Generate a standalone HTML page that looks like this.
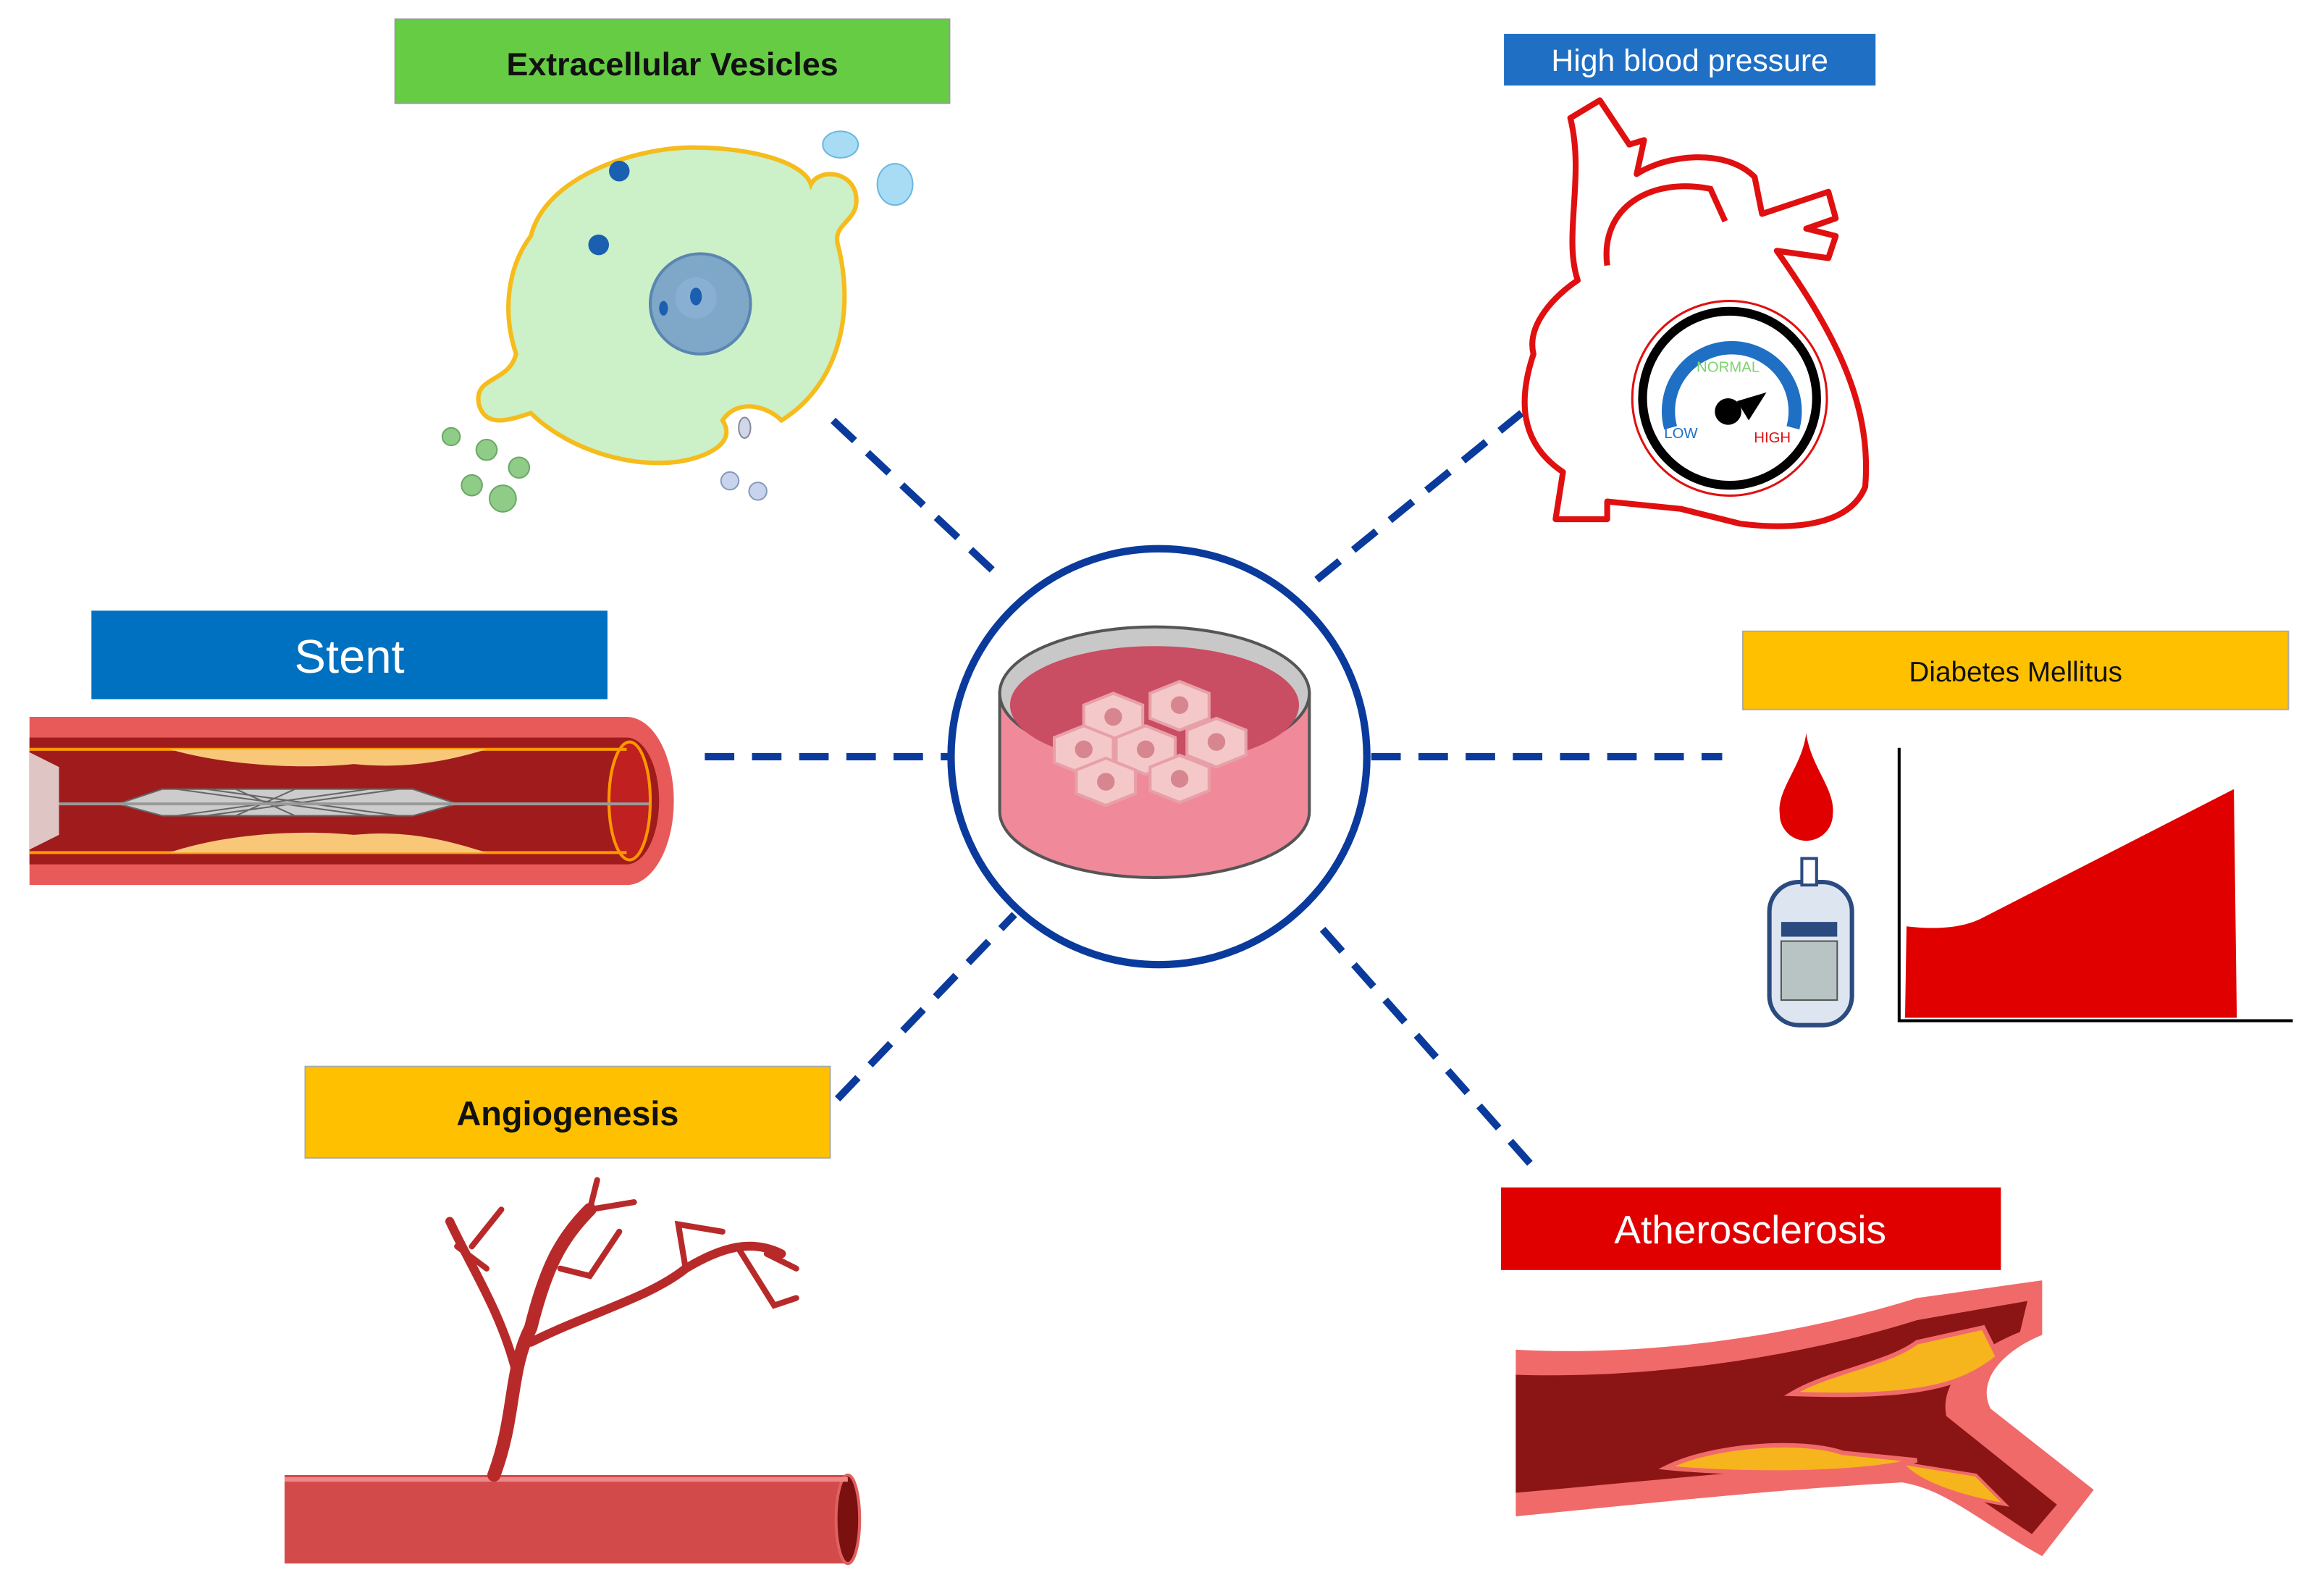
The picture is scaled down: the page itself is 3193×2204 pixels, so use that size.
<!DOCTYPE html>
<html><head><meta charset="utf-8">
<style>
html,body{margin:0;padding:0;background:#fff;}
svg{display:block;}
text{font-family:"Liberation Sans",sans-serif;}
</style></head>
<body>
<svg width="3193" height="2204" viewBox="0 0 1568 1082" preserveAspectRatio="none" xmlns="http://www.w3.org/2000/svg">
<rect width="1568" height="1082" fill="#fff"/>

<!-- dashed connectors -->
<g stroke="#0a3a9c" stroke-width="5" stroke-dasharray="20 12" fill="none">
<line x1="565" y1="285" x2="680" y2="393"/>
<line x1="893" y1="393" x2="1032" y2="280"/>
<line x1="478" y1="513" x2="645" y2="513"/>
<line x1="930" y1="513" x2="1168" y2="513"/>
<line x1="568" y1="745" x2="688" y2="620"/>
<line x1="897" y1="630" x2="1045" y2="797"/>
</g>

<!-- center circle + petri dish -->
<circle cx="786" cy="513" r="141" fill="#fff" stroke="#0a3a9c" stroke-width="5"/>
<path d="M678,470 L678,550 A105,45 0 0 0 888,550 L888,470 Z" fill="#f08a9a" stroke="#555" stroke-width="2"/>
<ellipse cx="783" cy="470" rx="105" ry="45" fill="#c8c8c8" stroke="#555" stroke-width="2"/>
<ellipse cx="783" cy="478" rx="98" ry="40" fill="#c94d63"/>
<g fill="#f4c8c8" stroke="#e8a0a8" stroke-width="2">
<polygon points="735,478 755,470 775,478 775,495 755,503 735,495"/>
<polygon points="780,470 800,462 820,470 820,487 800,495 780,487"/>
<polygon points="757,500 777,492 797,500 797,517 777,525 757,517"/>
<polygon points="805,495 825,487 845,495 845,512 825,520 805,512"/>
<polygon points="715,500 735,492 755,500 755,517 735,525 715,517"/>
<polygon points="730,522 750,514 770,522 770,538 750,546 730,538"/>
<polygon points="780,520 800,512 820,520 820,536 800,544 780,536"/>
</g>
<g fill="#d7868f"><circle cx="755" cy="486" r="6"/><circle cx="800" cy="478" r="6"/><circle cx="777" cy="508" r="6"/><circle cx="825" cy="503" r="6"/><circle cx="735" cy="508" r="6"/><circle cx="750" cy="530" r="6"/><circle cx="800" cy="528" r="6"/></g>

<!-- Extracellular Vesicles -->
<rect x="268" y="13" width="376" height="57" fill="#66cc44" stroke="#999" stroke-width="1"/>
<text x="456" y="51" font-size="22" font-weight="bold" text-anchor="middle" fill="#111">Extracellular Vesicles</text>
<path d="M360,160 C370,120 430,100 470,100 C510,100 545,110 550,125 C555,115 575,115 580,130 C585,150 565,150 568,165 C580,210 570,260 530,285 C520,275 500,270 490,285 C500,300 480,310 460,313 C420,318 380,300 360,280 C345,285 330,290 325,275 C320,255 345,260 350,240 C340,210 345,180 360,160 Z" fill="#ccf0c8" stroke="#f5bc1c" stroke-width="3"/>
<circle cx="475" cy="206" r="34" fill="#7fa8c8" stroke="#5a86b0" stroke-width="2"/>
<circle cx="472" cy="202" r="14" fill="#8fb6d8" opacity=".6"/>
<ellipse cx="472" cy="201" rx="4" ry="6" fill="#1a5fb0"/><ellipse cx="450" cy="209" rx="3" ry="5" fill="#1a5fb0"/>
<circle cx="420" cy="116" r="7" fill="#1a5fb0"/><circle cx="406" cy="166" r="7" fill="#1a5fb0"/>
<ellipse cx="570" cy="98" rx="12" ry="9" fill="#a8dcf5" stroke="#6bb8e0"/>
<ellipse cx="607" cy="125" rx="12" ry="14" fill="#a8dcf5" stroke="#6bb8e0"/>
<ellipse cx="505" cy="290" rx="4" ry="7" fill="#cfd8e8" stroke="#889"/>
<g fill="#8fcc88" stroke="#6aa865"><circle cx="306" cy="296" r="6"/><circle cx="330" cy="305" r="7"/><circle cx="352" cy="317" r="7"/><circle cx="320" cy="329" r="7"/><circle cx="341" cy="338" r="9"/></g>
<g fill="#c8d4ec" stroke="#8899bb"><circle cx="495" cy="326" r="6"/><circle cx="514" cy="333" r="6"/></g>

<!-- High blood pressure -->
<rect x="1020" y="23" width="252" height="35" fill="#1f6fc5"/>
<text x="1146" y="48" font-size="21" text-anchor="middle" fill="#fff">High blood pressure</text>
<path d="M1065,80 L1085,68 L1105,98 L1115,95 L1110,118 C1130,105 1170,100 1190,120 L1195,145 L1240,130 L1245,148 L1225,155 L1245,160 L1240,175 L1205,170 C1240,220 1270,270 1265,330 C1255,355 1220,360 1180,355 L1140,345 L1090,340 L1090,352 L1055,352 L1060,320 C1030,300 1030,270 1040,240 C1035,220 1055,200 1070,190 C1060,160 1075,120 1065,80 Z" fill="#fff" stroke="#e01010" stroke-width="4" stroke-linejoin="round"/>
<path d="M1090,180 C1085,140 1120,120 1160,128 L1170,150" fill="none" stroke="#e01010" stroke-width="4"/>
<circle cx="1173" cy="270" r="66" fill="#fff" stroke="#e01010" stroke-width="1.5"/>
<circle cx="1173" cy="270" r="59" fill="#fff" stroke="#000" stroke-width="6"/>
<path d="M1133,290 A43,43 0 1 1 1216,290" fill="none" stroke="#1f6fc5" stroke-width="9"/>
<text x="1172" y="252" font-size="10" fill="#7dd36d" text-anchor="middle">NORMAL</text>
<text x="1140" y="297" font-size="10" fill="#1f6fc5" text-anchor="middle">LOW</text>
<text x="1202" y="300" font-size="10" fill="#e01010" text-anchor="middle">HIGH</text>
<circle cx="1172" cy="279" r="9" fill="#000"/><polygon points="1178,272 1198,266 1186,285" fill="#000"/>

<!-- Stent -->
<rect x="62" y="414" width="350" height="60" fill="#0070c0"/>
<text x="237" y="456" font-size="32" text-anchor="middle" fill="#fff">Stent</text>
<path d="M20,486 L425,486 A32,57 0 0 1 425,600 L20,600 Z" fill="#e85a5a"/>
<path d="M20,500 L425,500 A22,43 0 0 1 425,586 L20,586 Z" fill="#a01c1c"/>
<ellipse cx="427" cy="543" rx="14" ry="40" fill="#c02020" stroke="#ff9800" stroke-width="2"/>
<path d="M20,508 L425,508" stroke="#ff9800" stroke-width="2"/><path d="M20,578 L425,578" stroke="#ff9800" stroke-width="2"/>
<path d="M115,508 C150,518 200,522 240,518 C280,522 310,514 330,508 Z" fill="#f8c878"/>
<path d="M115,578 C150,566 200,562 240,566 C280,562 310,572 330,578 Z" fill="#f8c878"/>
<path d="M20,510 L40,520 L40,566 L20,576 Z" fill="#f0f0f0" opacity=".8"/>
<path d="M80,545 L110,535 L280,535 L310,545 L280,553 L110,553 Z" fill="#ccc" stroke="#666"/>
<g stroke="#666" stroke-width="1"><path d="M120,535 L250,553 M120,553 L250,535 M140,535 L270,553 M140,553 L270,535 M160,535 L200,553 M160,553 L200,535"/></g>
<line x1="40" y1="545" x2="440" y2="545" stroke="#999" stroke-width="2"/>

<!-- Diabetes Mellitus -->
<rect x="1182" y="428" width="370" height="53" fill="#ffc000" stroke="#aaa" stroke-width="1"/>
<text x="1367" y="462" font-size="19" text-anchor="middle" fill="#111">Diabetes Mellitus</text>
<path d="M1225,497 C1228,520 1245,535 1243,552 A18,18 0 0 1 1207,552 C1205,535 1222,520 1225,497 Z" fill="#e00000"/>
<rect x="1200" y="598" width="56" height="97" rx="20" fill="#dde6f0" stroke="#2b4a80" stroke-width="3"/>
<rect x="1222" y="582" width="10" height="18" fill="#fff" stroke="#2b4a80" stroke-width="2"/>
<rect x="1208" y="638" width="38" height="40" fill="#b8c4c4" stroke="#555"/>
<path d="M1208,625 L1246,625 L1246,635 L1208,635 Z" fill="#2b4a80"/>
<polyline points="1288,507 1288,692 1555,692" fill="none" stroke="#000" stroke-width="2"/>
<path d="M1292,690 L1293,628 C1310,630 1330,630 1345,622 L1515,535 L1517,690 Z" fill="#e00000"/>

<!-- Angiogenesis -->
<rect x="207" y="723" width="356" height="62" fill="#ffc000" stroke="#aaa" stroke-width="1"/>
<text x="385" y="763" font-size="23" font-weight="bold" text-anchor="middle" fill="#111">Angiogenesis</text>
<path d="M193,1000 L575,1000 A8,30 0 0 1 575,1060 L193,1060 Z" fill="#d34a4a"/>
<ellipse cx="575" cy="1030" rx="8" ry="30" fill="#7a1010" stroke="#e06060" stroke-width="2"/>
<path d="M193,1003 L575,1003" stroke="#e88" stroke-width="3"/>
<g fill="none" stroke="#b82a2a" stroke-linecap="round">
<path d="M335,1000 C350,960 345,930 360,900 C370,860 380,840 400,820" stroke-width="9"/>
<path d="M350,930 C340,890 320,860 305,828" stroke-width="6"/>
<path d="M360,910 C400,890 440,880 465,860 C490,845 510,840 530,850" stroke-width="6"/>
<path d="M400,820 L405,800 M400,820 L430,815" stroke-width="4"/>
<path d="M330,860 L310,845 M320,845 L340,820" stroke-width="4"/>
<path d="M465,860 L460,830 L490,835 M500,845 L525,885 L540,880 M520,850 L540,860" stroke-width="4"/>
<path d="M380,860 L400,865 L420,835" stroke-width="4"/>
</g>

<!-- Atherosclerosis -->
<rect x="1018" y="805" width="339" height="56" fill="#e00000"/>
<text x="1187" y="843" font-size="27" text-anchor="middle" fill="#fff">Atherosclerosis</text>
<path d="M1028,915 C1120,920 1220,905 1300,880 L1385,868 L1385,905 C1360,915 1340,935 1350,955 L1420,1010 L1385,1055 C1340,1030 1320,1010 1290,1005 C1200,1010 1110,1020 1028,1028 Z" fill="#f06a6a"/>
<path d="M1028,932 C1120,935 1220,920 1300,895 L1375,882 L1370,903 C1340,915 1315,935 1320,960 L1395,1020 L1378,1040 C1340,1015 1315,995 1290,990 C1200,995 1110,1005 1028,1012 Z" fill="#8b1515"/>
<path d="M1215,945 C1240,930 1280,925 1300,910 L1345,900 L1355,920 C1330,940 1300,948 1215,945 Z" fill="#f6b51c" stroke="#f06a6a" stroke-width="3"/>
<path d="M1130,995 C1160,980 1220,975 1250,985 L1300,990 C1260,1000 1180,1000 1130,995 Z" fill="#f6b51c" stroke="#f06a6a" stroke-width="3"/>
<path d="M1290,992 L1340,1000 L1360,1020 C1330,1015 1300,1005 1290,992 Z" fill="#f6b51c" stroke="#f06a6a" stroke-width="2"/>
</g>
</svg>
</body></html>
